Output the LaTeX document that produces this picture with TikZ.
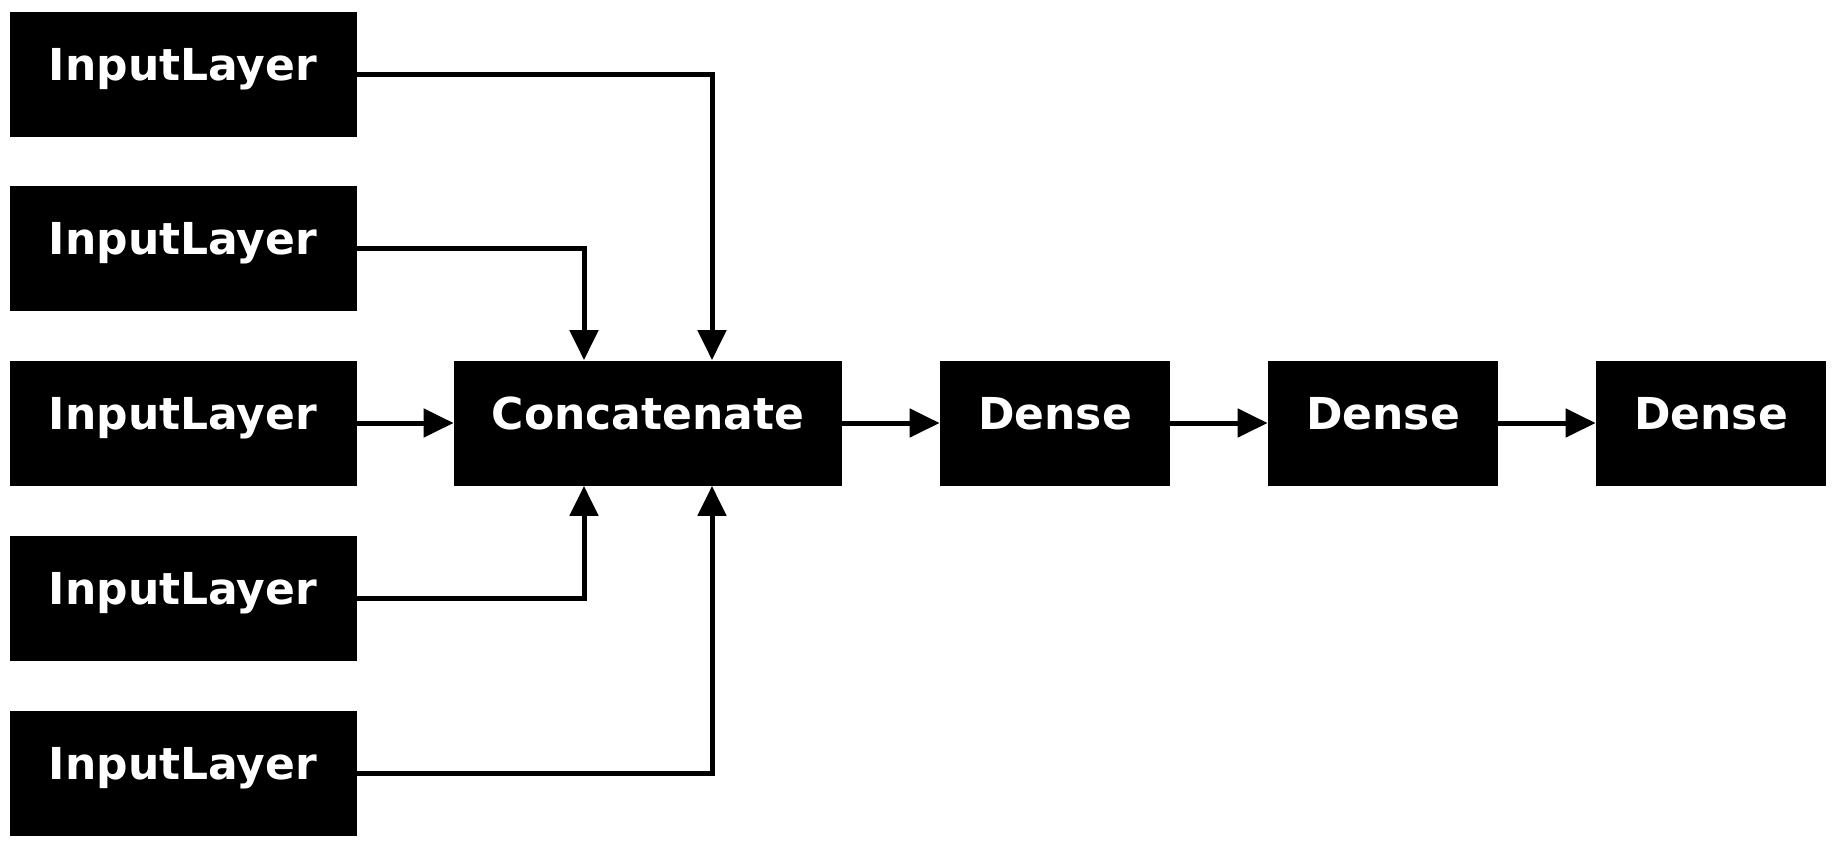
\documentclass[tikz,border=0pt]{standalone}
\usepackage{fontspec}
\setmainfont{DejaVu Sans}
\usetikzlibrary{calc}
\usetikzlibrary{arrows.meta}

\begin{document}
\begin{tikzpicture}[x=0.5pt,y=-0.5pt,
    layer/.style={fill=black,text=white,inner sep=0pt,minimum height=62.5pt,text height=16pt,text depth=9.8pt,font=\fontsize{22}{26}\selectfont\bfseries},
    link/.style={draw=black,line width=2.5pt,-{Triangle[length=15pt,width=14pt]}}]
    \fill[white] (0,0) rectangle (1836,847);
    \useasboundingbox (0,0) rectangle (1836,847);
    % input layers
    \foreach \i/\y in {1/74,2/248,3/423,4/598,5/773}
        \node[layer,minimum width=173.5pt] (in\i) at (183,\y) {InputLayer};
    \node[layer,minimum width=194pt] (cc) at (648,423) {Concatenate};
    \node[layer,minimum width=115pt] (d1) at (1055,423) {Dense};
    \node[layer,minimum width=115pt] (d2) at (1383,423) {Dense};
    \node[layer,minimum width=115pt] (d3) at (1711,423) {Dense};
    % edges
    \draw[link] (in1.east) -| ($(cc.north)+(64,0)$);
    \draw[link] (in2.east) -| ($(cc.north)+(-64,0)$);
    \draw[link] (in3.east) -- (cc.west);
    \draw[link] (in4.east) -| ($(cc.south)+(-64,0)$);
    \draw[link] (in5.east) -| ($(cc.south)+(64,0)$);
    \draw[link] (cc.east) -- (d1.west);
    \draw[link] (d1.east) -- (d2.west);
    \draw[link] (d2.east) -- (d3.west);
\end{tikzpicture}
\end{document}
